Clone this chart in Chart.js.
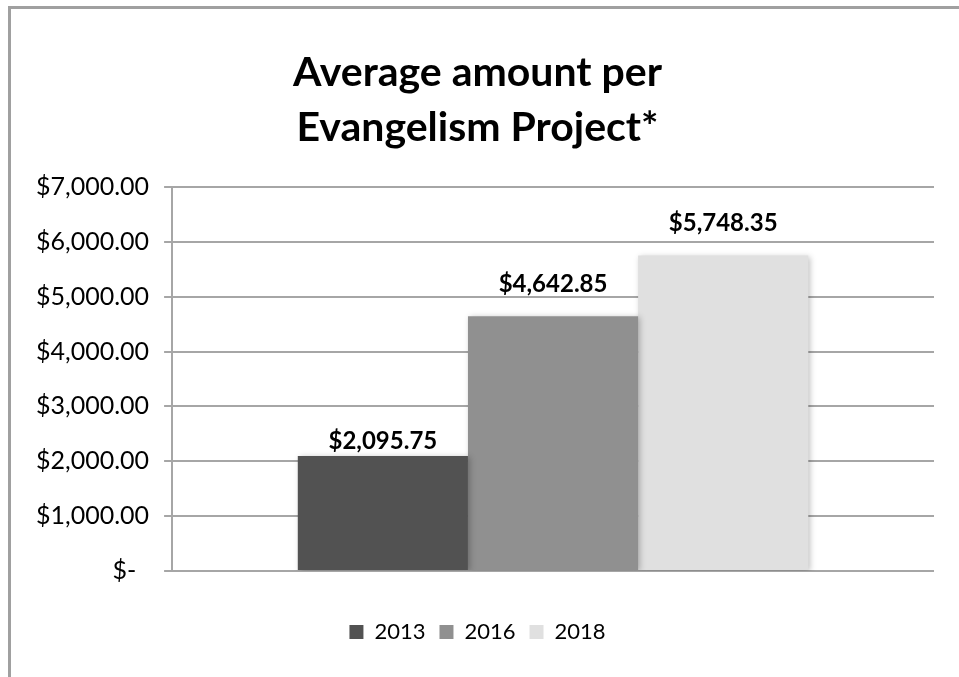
<!DOCTYPE html>
<html>
<head>
<meta charset="utf-8">
<script src="https://cdn.jsdelivr.net/npm/chart.js@4"></script>
<style>
    html, body { margin: 0; padding: 0; background: #fff; }
    #wrap { position: relative; width: 959px; height: 677px; }
    #frame {
        position: absolute; left: 8px; top: 6px; right: 0; bottom: 0;
        border-left: 3px solid #a0a0a0; border-top: 3px solid #a0a0a0;
        pointer-events: none;
    }
</style>
</head>
<body>
<div id="wrap">
    <canvas id="chart1" width="959" height="677"></canvas>
    <div id="frame"></div>
</div>
<script>
const categories = [''];
const seriesNames = ['2013', '2016', '2018'];
const seriesValues = [2095.75, 4642.85, 5748.35];
const seriesColors = ['#525252', '#909090', '#e0e0e0'];
const titleLines = ['Average amount per', 'Evangelism Project*'];

// gap between bar top and label (px), excel put them a bit uneven
const labelGaps = [15, 32, 32];

function money(v) {
    if (v === 0) return '$-  ';
    return '$' + v.toLocaleString('en-US', { minimumFractionDigits: 2, maximumFractionDigits: 2 });
}

const barShadow = {
    id: 'barShadow',
    beforeDatasetDraw: function (chart) {
        const ctx = chart.ctx;
        ctx.save();
        ctx.shadowColor = 'rgba(0,0,0,0.25)';
        ctx.shadowBlur = 6;
        ctx.shadowOffsetX = 2;
        ctx.shadowOffsetY = 1;
    },
    afterDatasetDraw: function (chart) {
        chart.ctx.restore();
    }
};

const valueLabels = {
    id: 'valueLabels',
    afterDatasetsDraw: function (chart) {
        const ctx = chart.ctx;
        ctx.save();
        ctx.font = 'bold 24px Lato';
        ctx.fillStyle = '#000';
        ctx.textAlign = 'center';
        ctx.textBaseline = 'bottom';
        chart.data.datasets.forEach(function (ds, i) {
            const bar = chart.getDatasetMeta(i).data[0];
            ctx.fillText(money(ds.data[0]), bar.x, bar.y - labelGaps[i] + 12);
        });
        ctx.restore();
    }
};

const datasets = seriesNames.map(function (name, i) {
    return {
        label: name,
        data: [seriesValues[i]],
        backgroundColor: seriesColors[i],
        borderWidth: 0,
        categoryPercentage: 0.67,
        barPercentage: 1.0
    };
});

const ctx = document.getElementById('chart1').getContext('2d');
new Chart(ctx, {
    type: 'bar',
    data: { labels: categories, datasets: datasets },
    plugins: [barShadow, valueLabels],
    options: {
        responsive: false,
        animation: false,
        layout: { padding: { left: 21, right: 25, top: 20, bottom: 24 } },
        plugins: {
            title: {
                display: true,
                text: titleLines,
                color: '#000',
                font: { family: 'Lato', size: 41, weight: 'bold', lineHeight: 1.34 },
                padding: { top: 25, bottom: 32 }
            },
            legend: {
                display: true,
                position: 'bottom',
                labels: {
                    color: '#000',
                    font: { family: 'Lato', size: 22 },
                    boxWidth: 14,
                    boxHeight: 14,
                    padding: 14
                }
            },
            tooltip: { enabled: false }
        },
        scales: {
            x: {
                display: true,
                ticks: { display: false },
                grid: { display: false },
                border: { display: false },
                title: { display: true, text: ' ', font: { size: 10, lineHeight: 1.2 }, padding: { top: 8, bottom: 8 } }
            },
            y: {
                min: 0,
                max: 7000,
                ticks: {
                    stepSize: 1000,
                    color: '#000',
                    font: { family: 'Lato', size: 25 },
                    padding: 15,
                    callback: function (v) { return money(v); }
                },
                grid: {
                    color: '#a6a6a6',
                    lineWidth: 2,
                    tickLength: 8
                },
                border: { display: true, color: '#a6a6a6', width: 2 }
            }
        }
    }
});
</script>
</body>
</html>
